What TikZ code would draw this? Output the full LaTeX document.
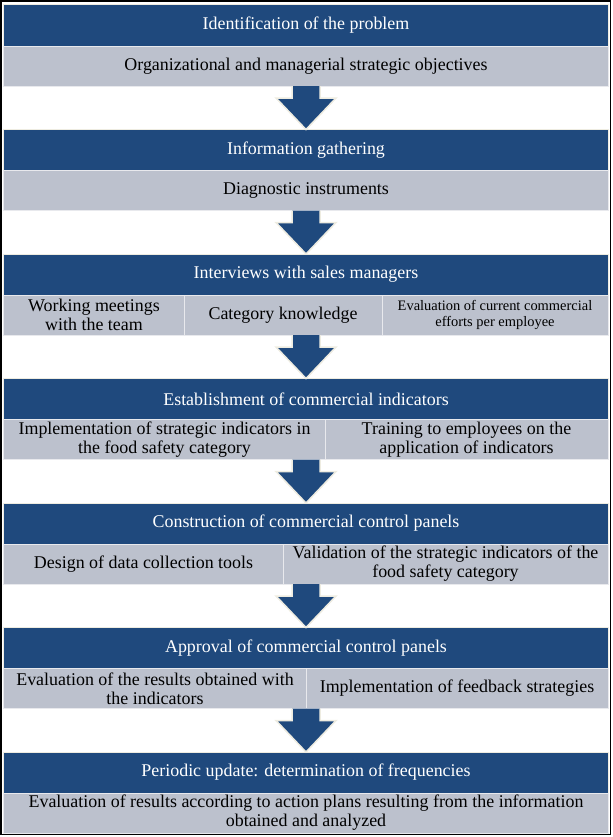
\documentclass[tikz,border=0pt]{standalone}
\usepackage{fontspec}
\setmainfont{Liberation Serif}
\usetikzlibrary{calc}
\definecolor{barblue}{RGB}{31,73,125}
\definecolor{cellgray}{RGB}{188,193,205}
\definecolor{rimbeige}{RGB}{238,236,225}
\begin{document}
\begin{tikzpicture}[x=1bp,y=1bp,line join=miter,
  bar/.style={fill=barblue,draw=rimbeige,line width=1bp,text=white,outer sep=0pt,
    minimum width=604bp,minimum height=41bp,inner sep=0pt,font=\fontsize{18}{19}\selectfont},
  cell/.style={fill=cellgray,draw=cellgray!35!white,line width=1bp,text=black,outer sep=0pt,
    minimum height=40bp,inner sep=0pt,align=center,font=\fontsize{18}{19}\selectfont},
  smallcell/.style={cell,font=\fontsize{14.5}{16}\selectfont},
  blockarrow/.style={fill=barblue,draw=rimbeige,line width=1.5bp},
]
\useasboundingbox (0,0) rectangle (613,-837);
\draw [black,line width=1.2bp] (1,-1) rectangle (610.5,-834.5);
%%
\node (bar_0) at (306,-25.5) [bar] {Identification of the problem};
  \node (cell_0) at (306,-66) [cell,minimum width=604bp] {Organizational and managerial strategic objectives};
  \node (bar_1) at (306,-150) [bar] {Information gathering};
  \node (cell_1) at (306,-190.5) [cell,minimum width=604bp] {Diagnostic instruments};
  \node (bar_2) at (306,-274.5) [bar] {Interviews with sales managers};
  \node (cell_2a) at (94,-315) [cell,minimum width=180bp] {Working meetings\\with the team};
  \node (cell_2b) at (283,-315) [cell,minimum width=198bp] {Category knowledge};
  \node (cell_2c) at (495,-315) [smallcell,minimum width=226bp] {Evaluation of current commercial\\efforts per employee};
  \node (bar_3) at (306,-399) [bar] {Establishment of commercial indicators};
  \node (cell_3a) at (164.5,-439.5) [cell,minimum width=321bp] {Implementation of strategic indicators in\\the food safety category};
  \node (cell_3b) at (466.5,-439.5) [cell,minimum width=283bp] {Training to employees on the\\application of indicators};
  \node (bar_4) at (306,-523.5) [bar] {Construction of commercial control panels};
  \node (cell_4a) at (143.5,-564) [cell,minimum width=279bp] {Design of data collection tools};
  \node (cell_4b) at (445.5,-564) [cell,minimum width=325bp] {Validation of the strategic indicators of the\\food safety category};
  \node (bar_5) at (306,-648) [bar] {Approval of commercial control panels};
  \node (cell_5a) at (155,-688.5) [cell,minimum width=302bp] {Evaluation of the results obtained with\\the indicators};
  \node (cell_5b) at (457,-688.5) [cell,minimum width=302bp] {Implementation of feedback strategies};
  \node (bar_6) at (306,-772.5) [bar] {Periodic update: determination of frequencies};
  \node (cell_6) at (306,-813) [cell,minimum width=604bp] {Evaluation of results according to action plans resulting from the information\\obtained and analyzed};
%
\coordinate (tail_1) at (306,-86);
  \coordinate (tail_2) at (306,-210.5);
  \coordinate (tail_3) at (306,-335);
  \coordinate (tail_4) at (306,-459.5);
  \coordinate (tail_5) at (306,-584);
  \coordinate (tail_6) at (306,-708.5);
  \draw [blockarrow] ([xshift=-14bp]tail_1) -- ([xshift=-14bp,yshift=-12bp]tail_1) -- ([xshift=-30bp,yshift=-12bp]tail_1) -- (bar_1.north) -- ([xshift=30bp,yshift=-12bp]tail_1) -- ([xshift=14bp,yshift=-12bp]tail_1) -- ([xshift=14bp]tail_1);
  \draw [blockarrow] ([xshift=-14bp]tail_2) -- ([xshift=-14bp,yshift=-12bp]tail_2) -- ([xshift=-30bp,yshift=-12bp]tail_2) -- (bar_2.north) -- ([xshift=30bp,yshift=-12bp]tail_2) -- ([xshift=14bp,yshift=-12bp]tail_2) -- ([xshift=14bp]tail_2);
  \draw [blockarrow] ([xshift=-14bp]tail_3) -- ([xshift=-14bp,yshift=-12bp]tail_3) -- ([xshift=-30bp,yshift=-12bp]tail_3) -- (bar_3.north) -- ([xshift=30bp,yshift=-12bp]tail_3) -- ([xshift=14bp,yshift=-12bp]tail_3) -- ([xshift=14bp]tail_3);
  \draw [blockarrow] ([xshift=-14bp]tail_4) -- ([xshift=-14bp,yshift=-12bp]tail_4) -- ([xshift=-30bp,yshift=-12bp]tail_4) -- (bar_4.north) -- ([xshift=30bp,yshift=-12bp]tail_4) -- ([xshift=14bp,yshift=-12bp]tail_4) -- ([xshift=14bp]tail_4);
  \draw [blockarrow] ([xshift=-14bp]tail_5) -- ([xshift=-14bp,yshift=-12bp]tail_5) -- ([xshift=-30bp,yshift=-12bp]tail_5) -- (bar_5.north) -- ([xshift=30bp,yshift=-12bp]tail_5) -- ([xshift=14bp,yshift=-12bp]tail_5) -- ([xshift=14bp]tail_5);
  \draw [blockarrow] ([xshift=-14bp]tail_6) -- ([xshift=-14bp,yshift=-12bp]tail_6) -- ([xshift=-30bp,yshift=-12bp]tail_6) -- (bar_6.north) -- ([xshift=30bp,yshift=-12bp]tail_6) -- ([xshift=14bp,yshift=-12bp]tail_6) -- ([xshift=14bp]tail_6);
%
\end{tikzpicture}
\end{document}
